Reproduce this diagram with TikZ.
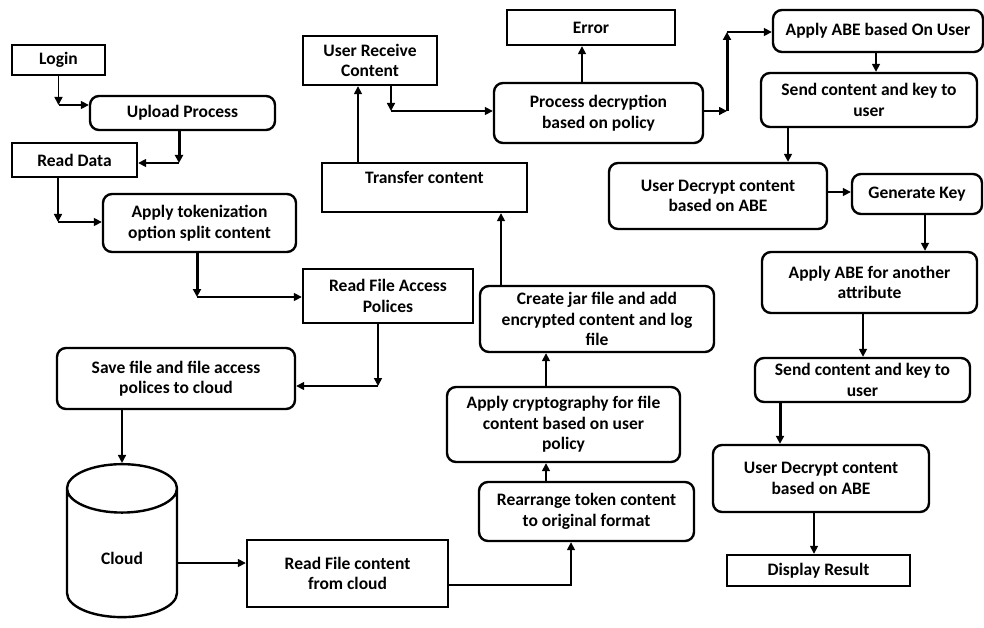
\documentclass[tikz,border=0pt]{standalone}
\usepackage{fontspec}
\setmainfont{Carlito}
\usetikzlibrary{arrows.meta, shapes.geometric, calc}
\tikzset{
  every picture/.style={font=\bfseries\fontsize{17.5}{20.5}\selectfont, line width=1.6pt},
  sqbox/.style={draw, line width=2.4pt, align=center, inner sep=1pt},
  rbox/.style={sqbox, rounded corners=9pt},
  arrow/.style={-{Triangle[length=8pt, width=8pt]}},
  heavy/.style={line width=3pt},
  dbase/.style={draw, line width=2.4pt, cylinder, shape border rotate=90, aspect=1, minimum width=110pt, minimum height=153pt},
}
\begin{document}
\begin{tikzpicture}[x=1pt, y=-1pt]
  \useasboundingbox (0,0) rectangle (984,628);
  \node[sqbox, minimum width=93pt, minimum height=30pt] (login) at (58.5,60) {Login};
  \node[rbox, minimum width=185pt, minimum height=34pt] (upload) at (182.5,113) {Upload Process};
  \node[sqbox, minimum width=125pt, minimum height=34pt] (readdata) at (74.5,160) {Read Data};
  \node[rbox, minimum width=193pt, minimum height=58pt] (token) at (199.5,223) {Apply tokenization\\option split content};
  \node[sqbox, minimum width=170pt, minimum height=54pt] (rfap) at (388,296) {Read File Access\\Polices};
  \node[rbox, minimum width=238pt, minimum height=61pt] (save) at (176,378.5) {Save file and file access\\polices to cloud};
  \node[dbase] (cloud) at (122,557.5) {\raisebox{-14pt}{Cloud}};
  \node[sqbox, minimum width=201pt, minimum height=67pt] (readcloud) at (347.5,573.5) {Read File content\\from cloud};
  \node[rbox, minimum width=215pt, minimum height=59pt] (rearr) at (586.5,511.5) {Rearrange token content\\to original format};
  \node[rbox, minimum width=233pt, minimum height=75pt] (crypto) at (563.5,424.5) {Apply cryptography for file\\content based on user\\policy};
  \node[rbox, minimum width=234pt, minimum height=66pt] (jar) at (597,319) {Create jar file and add\\encrypted content and log\\file};
  \node[sqbox, minimum width=205pt, minimum height=49pt] (transfer) at (424.5,187.5) {Transfer content\\~};
  \node[sqbox, minimum width=134pt, minimum height=49pt] (receive) at (370,60.5) {User Receive\\Content};
  \node[rbox, minimum width=209pt, minimum height=60pt] (policy) at (598.5,113) {Process decryption\\based on policy};
  \node[sqbox, minimum width=168pt, minimum height=35pt] (error) at (591,27.5) {Error};
  \node[rbox, minimum width=210pt, minimum height=42pt] (abeuser) at (878,31) {Apply ABE based On User};
  \node[rbox, minimum width=216pt, minimum height=54pt] (sendA) at (869,100) {Send content and key to\\user};
  \node[rbox, minimum width=218pt, minimum height=66pt] (decryptA) at (718,196) {User Decrypt content\\based on ABE};
  \node[rbox, minimum width=130pt, minimum height=40pt] (genkey) at (917,194) {Generate Key};
  \node[rbox, minimum width=215pt, minimum height=61pt] (abeother) at (869.5,282.5) {Apply ABE for another\\attribute};
  \node[rbox, minimum width=215pt, minimum height=44pt] (sendB) at (862.5,380) {Send content and key to\\user};
  \node[rbox, minimum width=216pt, minimum height=67pt] (decryptB) at (821,478.5) {User Decrypt content\\based on ABE};
  \node[sqbox, minimum width=183pt, minimum height=31pt] (display) at (818.5,570.5) {Display Result};

  \coordinate (k1) at (login.south |- 0,105);
  \coordinate (k2) at (179,163);
  \coordinate (k3) at (58,222);
  \coordinate (k4) at (197,297);
  \coordinate (k5) at (378,386);
  \coordinate (k6) at (391,111);
  \coordinate (k7) at (727,111);
  \coordinate (k8) at (727,32);

  \draw[arrow] (login) -- (k1);
  \draw[arrow] (k1) -- (k1 -| upload.west);
  \draw[arrow, heavy] (upload.south -| k2) -- (k2);
  \draw[arrow] (k2) -- (k2 -| readdata.east);
  \draw[arrow] (readdata.south -| k3) -- (k3);
  \draw[arrow] (k3) -- (k3 -| token.west);
  \draw[arrow, heavy] (token.south -| k4) -- (k4);
  \draw[arrow] (k4) -- (k4 -| rfap.west);
  \draw[arrow] (rfap.south -| k5) -- (k5);
  \draw[arrow] (k5) -- (k5 -| save.east);
  \draw[arrow] (save.south -| cloud.north) -- (cloud.north);
  \draw[arrow] (cloud.east |- 0,563) -- (readcloud.west |- 0,563);
  \draw[arrow] (readcloud.east |- 0,585) -| (rearr.south -| 571,0);
  \draw[arrow] (rearr.north -| 546,0) -- (crypto.south -| 546,0);
  \draw[arrow] (crypto.north -| 546,0) -- (jar.south -| 546,0);
  \draw[arrow] (jar.north -| 501,0) -- (transfer.south -| 501,0);
  \draw[arrow] (transfer.north -| 358,0) -- (receive.south -| 358,0);
  \draw[arrow] (receive.south -| k6) -- (k6);
  \draw[arrow] (k6) -- (k6 -| policy.west);
  \draw[arrow] (policy.north -| 582,0) -- (error.south -| 582,0);
  \draw[arrow] (policy.east |- k7) -- (k7);
  \draw[arrow, heavy] (k7) -- (k8);
  \draw[arrow] (k8) -- (k8 -| abeuser.west);
  \draw[arrow] (abeuser.south -| 876,0) -- (sendA.north -| 876,0);
  \draw[arrow] (sendA.south -| 788,0) -- (decryptA.north -| 788,0);
  \draw[arrow] (decryptA.east |- 0,192) -- (genkey.west |- 0,192);
  \draw[arrow] (genkey.south -| 925,0) -- (abeother.north -| 925,0);
  \draw[arrow] (abeother.south -| 863,0) -- (sendB.north -| 863,0);
  \draw[arrow, heavy] (sendB.south -| 780,0) -- (decryptB.north -| 780,0);
  \draw[arrow] (decryptB.south -| 814,0) -- (display.north -| 814,0);
\end{tikzpicture}
\end{document}
